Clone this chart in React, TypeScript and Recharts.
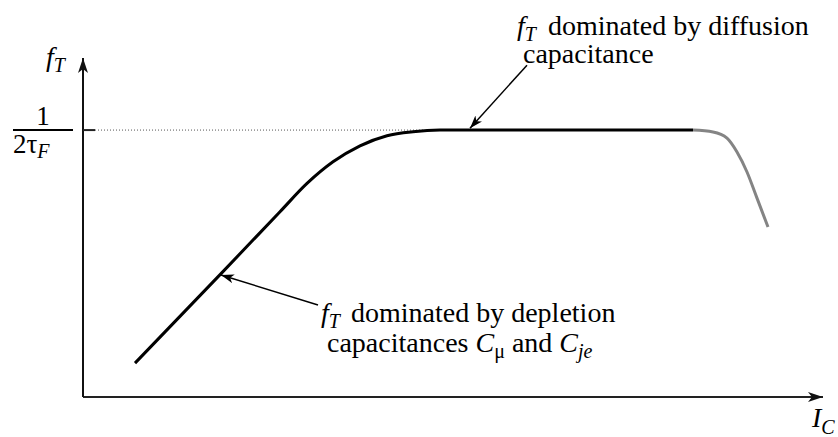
import React from "react";
import { LineChart, Line, XAxis, YAxis, ReferenceLine } from "recharts";

// collector current (arbitrary units) and normalised fT (1 = 1/(2τF))
const icLow = [5.2, 13.9, 19.7, 22.4, 25.0, 27.7, 30.4, 33.0, 35.7, 48.0, 61.0];
const ftLow = [0.127, 0.466, 0.694, 0.8, 0.881, 0.941, 0.979, 0.994, 1.0, 1.0, 1.0];

// high-injection roll-off, drawn in gray
const icHigh = [61.0, 63.0, 64.4, 65.4, 66.4, 67.4, 68.5];
const ftHigh = [1.0, 0.993, 0.97, 0.918, 0.843, 0.745, 0.637];

const FT_PEAK = 1;
const X_MAX = 74;
const Y_MAX = 1.27;

// annotation arrows: [from, to] in data units
const diffusionArrow = [
  { x: 44.4, y: 1.243 },
  { x: 38.7, y: 1.007 },
];
const depletionArrow = [
  { x: 23.5, y: 0.345 },
  { x: 13.8, y: 0.457 },
];

const lowData = icLow.map((x, i) => ({ x, y: ftLow[i] }));
const highData = icHigh.map((x, i) => ({ x, y: ftHigh[i] }));

const W = 838;
const H = 437;
const serif = { fontFamily: '"Liberation Serif", "DejaVu Serif", serif' };

export default function App() {
  return (
    <div style={{ position: "absolute", left: 0, top: 0, width: W, height: H, background: "#fff" }}>
      {/* arrowhead markers, shared by the chart svg */}
      <svg width={0} height={0} style={{ position: "absolute" }}>
        <defs>
          <marker
            id="axisHead"
            markerUnits="userSpaceOnUse"
            markerWidth={16}
            markerHeight={12}
            refX={15}
            refY={6}
            orient="auto"
          >
            <path d="M0,1 L15,6 L0,11 L4,6 Z" fill="#111" />
          </marker>
          <marker
            id="noteHead"
            markerUnits="userSpaceOnUse"
            markerWidth={14}
            markerHeight={10}
            refX={13}
            refY={5}
            orient="auto"
          >
            <path d="M0,0.5 L13,5 L0,9.5 L3.5,5 Z" fill="#000" />
          </marker>
        </defs>
      </svg>

      <LineChart width={W} height={H} margin={{ top: 58, right: 15, bottom: 40, left: 83 }}>
        <XAxis type="number" dataKey="x" domain={[0, X_MAX]} hide />
        <YAxis type="number" dataKey="y" domain={[0, Y_MAX]} hide />
        {/* axes with arrowheads */}
        <ReferenceLine
          segment={[{ x: 0, y: 0 }, { x: X_MAX, y: 0 }]}
          stroke="#222"
          strokeWidth={2}
          ifOverflow="visible"
          markerEnd="url(#axisHead)"
        />
        <ReferenceLine
          segment={[{ x: 0, y: 0 }, { x: 0, y: Y_MAX }]}
          stroke="#111"
          strokeWidth={2}
          ifOverflow="visible"
          markerEnd="url(#axisHead)"
        />
        {/* short tick and dotted guide at 1/(2τF) */}
        <ReferenceLine
          segment={[{ x: 0, y: FT_PEAK }, { x: 1.2, y: FT_PEAK }]}
          stroke="#222"
          strokeWidth={2}
          ifOverflow="visible"
        />
        <ReferenceLine
          segment={[{ x: 1.2, y: FT_PEAK }, { x: 34, y: FT_PEAK }]}
          stroke="#555"
          strokeWidth={1}
          strokeDasharray="1 2"
        />
        <Line
          data={lowData}
          dataKey="y"
          type="monotone"
          stroke="#000"
          strokeWidth={3}
          dot={false}
          activeDot={false}
          isAnimationActive={false}
        />
        <Line
          data={highData}
          dataKey="y"
          type="monotone"
          stroke="#848484"
          strokeWidth={3}
          dot={false}
          activeDot={false}
          isAnimationActive={false}
        />
        <ReferenceLine
          segment={diffusionArrow}
          stroke="#000"
          strokeWidth={1.5}
          markerEnd="url(#noteHead)"
        />
        <ReferenceLine
          segment={depletionArrow}
          stroke="#000"
          strokeWidth={1.5}
          markerEnd="url(#noteHead)"
        />
      </LineChart>

      {/* math labels */}
      <svg
        width={W}
        height={H}
        style={{ position: "absolute", left: 0, top: 0, pointerEvents: "none" }}
      >
        <text x={46} y={66} fontSize={28} fontStyle="italic" style={serif}>
          f
          <tspan fontSize={20} dy={6}>T</tspan>
        </text>

        <text x={43} y={125} fontSize={27} textAnchor="middle" style={serif}>1</text>
        <line x1={13} y1={130} x2={73} y2={130} stroke="#000" strokeWidth={2} />
        <text x={13} y={153} fontSize={27} style={serif}>
          2τ
          <tspan fontSize={20} fontStyle="italic" dy={5}>F</tspan>
        </text>

        <text x={812} y={427} fontSize={28} fontStyle="italic" style={serif}>
          I
          <tspan fontSize={20} dy={7}>C</tspan>
        </text>

        <text x={517} y={35} fontSize={28} style={serif}>
          <tspan fontStyle="italic">f</tspan>
          <tspan fontStyle="italic" fontSize={20} dy={6}>T</tspan>
        </text>
        <text x={548} y={35} fontSize={28} style={serif}>dominated by diffusion</text>
        <text x={523} y={63} fontSize={28} style={serif}>capacitance</text>

        <text x={321} y={322} fontSize={28} style={serif}>
          <tspan fontStyle="italic">f</tspan>
          <tspan fontStyle="italic" fontSize={20} dy={6}>T</tspan>
        </text>
        <text x={351} y={322} fontSize={28} style={serif}>dominated by depletion</text>
        <text x={327} y={352} fontSize={28} style={serif}>
          capacitances <tspan fontStyle="italic">C</tspan>
          <tspan fontSize={20} dy={6}>μ</tspan>
          <tspan dy={-6}> and </tspan>
          <tspan fontStyle="italic">C</tspan>
          <tspan fontStyle="italic" fontSize={20} dy={6}>je</tspan>
        </text>
      </svg>
    </div>
  );
}
